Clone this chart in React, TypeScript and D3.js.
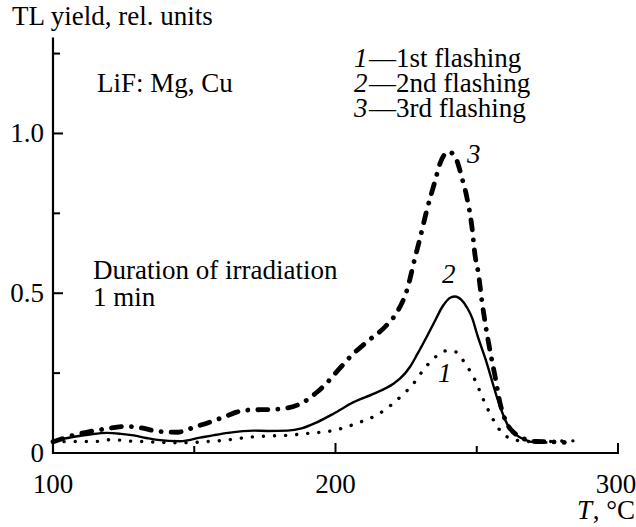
import React from "react";
import * as d3 from "d3";

const t1 = [100, 108, 114.6, 121, 126, 131, 137, 143, 152, 156, 161, 166, 170, 176, 182, 191, 199, 207.6, 215.8, 223.5, 227.6, 231.1, 235.3, 239.4, 242.4, 245.9, 249.4, 252.4, 255.3, 258.3, 262.4, 268, 275, 282, 287];
const v1 = [0.035, 0.036, 0.036, 0.042, 0.038, 0.036, 0.034, 0.032, 0.034, 0.037, 0.04, 0.046, 0.05, 0.053, 0.055, 0.062, 0.07, 0.093, 0.125, 0.18, 0.217, 0.26, 0.3, 0.32, 0.317, 0.28, 0.228, 0.166, 0.113, 0.07, 0.044, 0.036, 0.036, 0.038, 0.038];

const t2 = [100, 107, 113, 119, 124, 128.5, 133, 137, 145, 152, 157, 162, 171, 176, 183, 188, 193.4, 199.3, 206.4, 213.4, 220.5, 223, 226.4, 229, 232.3, 235, 238, 240.6, 242.4, 244.5, 246.5, 248.5, 250, 253.6, 257.1, 260.7, 264.2, 267, 270, 275];
const v2 = [0.038, 0.05, 0.058, 0.063, 0.06, 0.055, 0.047, 0.041, 0.037, 0.048, 0.056, 0.063, 0.07, 0.069, 0.07, 0.077, 0.096, 0.123, 0.159, 0.185, 0.217, 0.234, 0.27, 0.31, 0.364, 0.41, 0.46, 0.486, 0.49, 0.48, 0.456, 0.42, 0.375, 0.28, 0.176, 0.092, 0.055, 0.042, 0.034, 0.033];

const t3 = [100, 101.4, 107, 113, 119, 126, 131, 137, 144, 150, 156, 162, 165, 170, 177, 183, 188, 193.4, 197, 201, 206, 211, 218, 222, 225.3, 228.2, 230, 232.3, 235.3, 237, 240, 242.4, 244.7, 246.5, 248.3, 249.4, 250.6, 251.8, 253.3, 254.7, 256.5, 258.3, 260.7, 263, 265.4, 271, 276, 281];
const v3 = [0.035, 0.039, 0.055, 0.067, 0.076, 0.083, 0.079, 0.068, 0.065, 0.081, 0.098, 0.118, 0.128, 0.135, 0.136, 0.141, 0.156, 0.19, 0.22, 0.26, 0.308, 0.347, 0.399, 0.444, 0.51, 0.613, 0.675, 0.759, 0.853, 0.906, 0.943, 0.926, 0.863, 0.8, 0.707, 0.618, 0.561, 0.477, 0.39, 0.32, 0.239, 0.154, 0.092, 0.065, 0.05, 0.036, 0.035, 0.033];

const xTicks = [150, 200, 250, 300];
const xLabels = [100, 200, 300];
const yTicks = [0.25, 0.5, 0.75, 1.0, 1.25];
const yLabels = [0, 0.5, 1.0];
const legendItems = [
  { n: "1", label: "—1st flashing" },
  { n: "2", label: "—2nd flashing" },
  { n: "3", label: "—3rd flashing" },
];

const FONT = "'Liberation Serif', 'Times New Roman', serif";

export default function App() {
  const W = 636, H = 527;
  const x = d3.scaleLinear().domain([100, 300]).range([53, 618]);
  const y = d3.scaleLinear().domain([0, 1.3]).range([453, 37.6]);
  const line = d3.line<[number, number]>().x(d => x(d[0])).y(d => y(d[1])).curve(d3.curveMonotoneX);
  const p1 = line(t1.map((t, i) => [t, v1[i]]) as [number, number][]) || "";
  const p2 = line(t2.map((t, i) => [t, v2[i]]) as [number, number][]) || "";
  const p3 = line(t3.map((t, i) => [t, v3[i]]) as [number, number][]) || "";
  const x0 = x(100), y0 = y(0);
  const ts = { fontFamily: FONT, fontSize: 27 };
  const tsi = { fontFamily: FONT, fontSize: 27, fontStyle: "italic" as const };
  return (
    <svg width={W} height={H} viewBox={`0 0 ${W} ${H}`} style={{ position: "absolute", left: 0, top: 0, background: "#fff" }}>
      <rect x={0} y={0} width={W} height={H} fill="#fff" />
      <line x1={x0} y1={y(1.3)} x2={x0} y2={y0 + 1} stroke="#000" strokeWidth={2.2} />
      <line x1={x0 - 1} y1={y0} x2={x(300) + 1} y2={y0} stroke="#000" strokeWidth={2.2} />
      {xTicks.map(t => {
        const major = xLabels.includes(t);
        return <line key={"xt" + t} x1={x(t)} x2={x(t)} y1={y0} y2={y0 - (major ? 10 : 7)} stroke="#000" strokeWidth={2} />;
      })}
      {yTicks.map(t => {
        const major = yLabels.includes(t);
        return <line key={"yt" + t} x1={x0} x2={x0 + (major ? 10 : 7)} y1={y(t)} y2={y(t)} stroke="#000" strokeWidth={2} />;
      })}
      {xLabels.map(t => (
        <text key={"xl" + t} style={ts} x={t === 300 ? x(t) - 2 : x(t)} y={493} textAnchor="middle">{t}</text>
      ))}
      {yLabels.map(t => (
        <text key={"yl" + t} style={ts} x={44} y={y(t) + 9} textAnchor="end">{t === 0 ? "0" : t.toFixed(1)}</text>
      ))}
      <text style={ts} x={12} y={25}>TL yield, rel. units</text>
      <text style={tsi} x={577} y={519}>T</text>
      <text style={ts} x={635} y={519} textAnchor="end">, °C</text>
      <text style={ts} x={97} y={92}>LiF: Mg, Cu</text>
      <text style={ts} x={93} y={279}>Duration of irradiation</text>
      <text style={ts} x={93} y={306}>1 min</text>
      {legendItems.map((d, i) => (
        <g key={"lg" + i}>
          <text style={tsi} x={354} y={67 + i * 25}>{d.n}</text>
          <text style={ts} x={369} y={67 + i * 25}>{d.label}</text>
        </g>
      ))}
      <path d={p1} fill="none" stroke="#000" strokeWidth={3.4} strokeLinecap="round" strokeDasharray="0.1 11" />
      <path d={p2} fill="none" stroke="#000" strokeWidth={2.4} />
      <path d={p3} fill="none" stroke="#000" strokeWidth={4.8} strokeLinecap="round" strokeDasharray="10 10 0.1 10" />
      <text style={tsi} x={438} y={382}>1</text>
      <text style={tsi} x={442} y={283}>2</text>
      <text style={tsi} x={467} y={163}>3</text>
    </svg>
  );
}
